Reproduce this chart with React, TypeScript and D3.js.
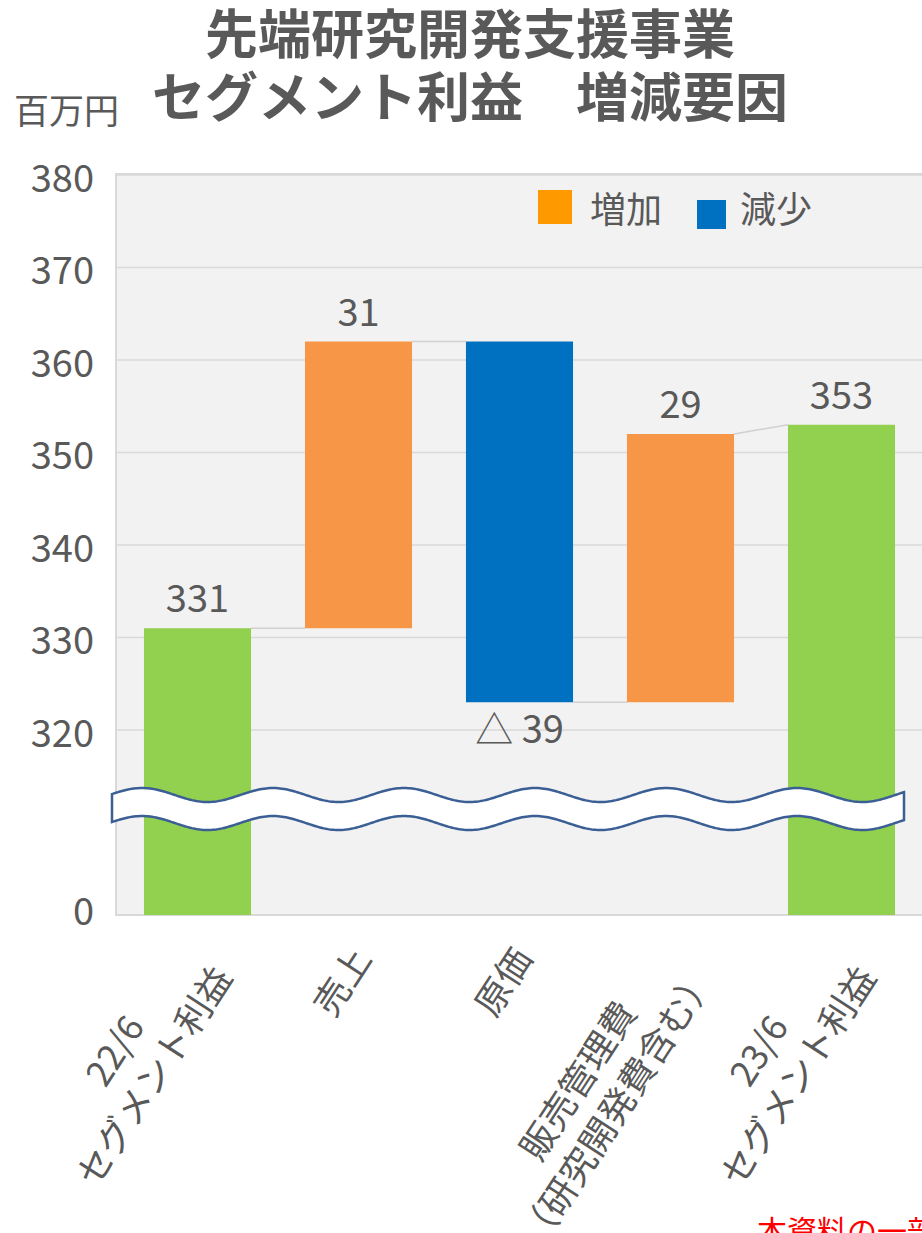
import * as React from "react";
import * as d3 from "d3";

const categories = ["c1", "c2", "c3", "c4", "c5"];
const categoryLines = [
  ["22/6", "セグメント利益"],
  ["売上"],
  ["原価"],
  ["販売管理費", "（研究開発費含む）"],
  ["23/6", "セグメント利益"],
];
const startValue = 331;
const changes = [31, -39, 29];
const endValue = 353;
const yTicks = [0, 320, 330, 340, 350, 360, 370, 380];
const legendItems = ["増加", "減少"];

const FONT = "'Noto Sans CJK JP', 'Noto Sans', sans-serif";
const TEXT = "#595959";
const GREEN = "#92d050";
const ORANGE = "#f79646";
const BLUE = "#0070c0";

const W = 922;
const H = 1233;

function measure(s: string, size: number) {
  const c = document.createElement("canvas").getContext("2d");
  if (!c) return s.length * size;
  c.font = `${size}px ${FONT}`;
  return c.measureText(s).width;
}

export default function App() {
  const x = d3.scaleBand()
    .domain(categories)
    .range([117, 922])
    .paddingInner(0.335)
    .paddingOuter(0.1675);
  const y = d3.scaleLinear()
    .domain([0, 310, 320, 380])
    .range([915, 822.5, 730, 175]);

  // waterfall segments
  type Seg = { lo: number; hi: number; color: string; label: string; up: boolean; end: number };
  const segs: Seg[] = [];
  segs.push({ lo: 0, hi: startValue, color: GREEN, label: String(startValue), up: true, end: startValue });
  let run = startValue;
  changes.forEach((c) => {
    const next = run + c;
    segs.push({
      lo: Math.min(run, next),
      hi: Math.max(run, next),
      color: c >= 0 ? ORANGE : BLUE,
      label: c >= 0 ? String(c) : "△ " + Math.abs(c),
      up: c >= 0,
      end: next,
    });
    run = next;
  });
  segs.push({ lo: 0, hi: endValue, color: GREEN, label: String(endValue), up: true, end: endValue });

  const bw = x.bandwidth();

  // wavy break
  const breakTop = 795, breakBot = 823, amp = 7, period = 131, x0 = 112, x1 = 904;
  const xs = d3.range(x0, x1 + 0.5, 2);
  const wave = (c: number) => xs.map((px) => [px, c - amp * Math.cos((2 * Math.PI * (px - 273)) / period)] as [number, number]);
  const top = wave(breakTop);
  const bot = wave(breakBot).reverse();
  const line = d3.line();
  const breakPath = line([...top, ...bot])! + "Z";

  const catSize = 36;
  const lh = 47;
  const angle = -57;

  return (
    <svg width={W} height={H} style={{ position: "absolute", left: 0, top: 0, background: "#fff" }} fontFamily={FONT}>
      {/* title */}
      <text x={470} y={54} textAnchor="middle" fontSize={53} fontWeight="bold" fill={TEXT}>先端研究開発支援事業</text>
      <text x={470} y={117} textAnchor="middle" fontSize={53} fontWeight="bold" fill={TEXT}>セグメント利益　増減要因</text>
      <text x={14} y={124} fontSize={35} fill={TEXT}>百万円</text>

      {/* plot area */}
      <rect x={116} y={174} width={W - 116 + 2} height={y(0) - 174} fill="#f2f2f2" stroke="#d9d9d9" strokeWidth={2} />
      {yTicks.filter((t) => t > 0).map((t) => (
        <line key={t} x1={117} x2={W} y1={y(t)} y2={y(t)} stroke="#d9d9d9" strokeWidth={1.5} />
      ))}
      {yTicks.map((t) => (
        <text key={t} x={94} y={t === 0 ? y(t) - 7 : y(t)} textAnchor="end" dominantBaseline="central" fontSize={38} fill={TEXT}>{t}</text>
      ))}

      {/* connectors */}
      {segs.slice(0, -1).map((s, i) => {
        const nxt = segs[i + 1];
        const yEnd = i === segs.length - 2 ? y(nxt.hi) : y(s.end);
        return (
          <line key={i} x1={x(categories[i])! + bw} x2={x(categories[i + 1])!} y1={y(s.end)} y2={yEnd} stroke="#d0d0d0" strokeWidth={1.5} />
        );
      })}

      {/* bars */}
      {segs.map((s, i) => (
        <rect key={i} x={x(categories[i])} y={y(s.hi)} width={bw} height={y(s.lo) - y(s.hi)} fill={s.color} />
      ))}

      {/* value labels */}
      {segs.map((s, i) => (
        <text key={i} x={x(categories[i])! + bw / 2} y={s.up ? y(s.hi) - 16 : y(s.lo) + 41} textAnchor="middle" fontSize={38} fill={TEXT}>{s.label}</text>
      ))}

      {/* axis break */}
      <path d={breakPath} fill="#fff" stroke="#3b5f95" strokeWidth={2.5} />

      {/* legend */}
      <rect x={538} y={190} width={34} height={34} fill="#ff9900" />
      <text x={590} y={223} fontSize={36} fill={TEXT}>{legendItems[0]}</text>
      <rect x={697} y={200} width={29} height={29} fill={BLUE} />
      <text x={740} y={223} fontSize={36} fill={TEXT}>{legendItems[1]}</text>

      {/* category labels */}
      {categoryLines.map((lines, i) => {
        const n = lines.length;
        const cx = x(categories[i])! + bw / 2;
        const wMax = Math.max(...lines.map((l) => measure(l, catSize)));
        return (
          <g key={i} transform={`translate(${cx + 1 + 2 * (n - 1)},${950 + 6 * (n - 1)}) rotate(${angle})`}>
            {lines.map((l, j) => (
              <text key={j} x={-wMax / 2} y={(j - (n - 1) / 2) * lh} textAnchor="middle" dominantBaseline="central" fontSize={catSize} fill={TEXT}>{l}</text>
            ))}
          </g>
        );
      })}

      <text x={757} y={1242} fontSize={30} fill="#ff0000">本資料の一部</text>
    </svg>
  );
}
